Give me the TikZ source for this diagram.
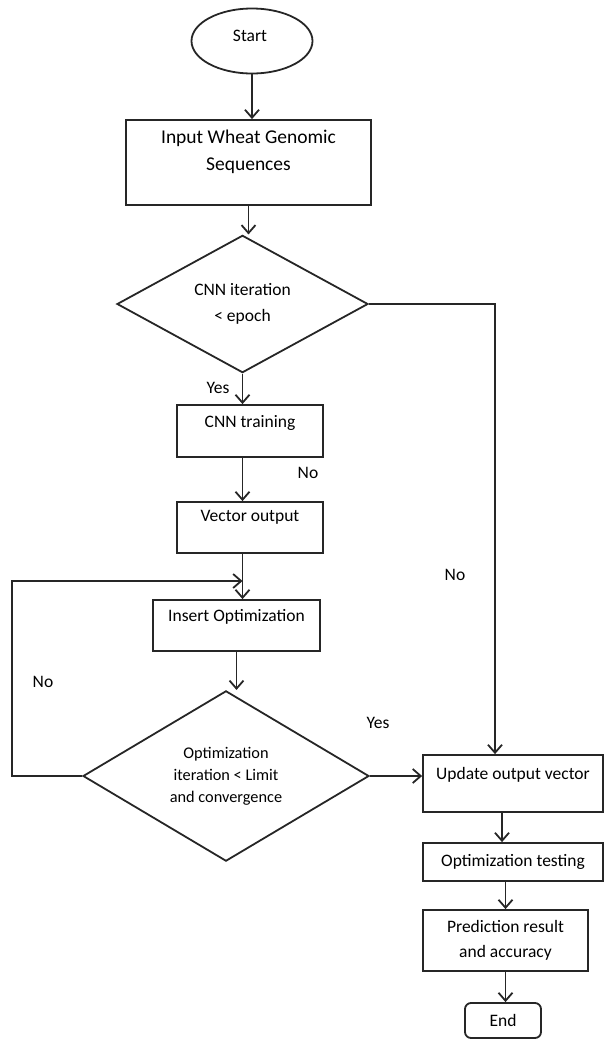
\documentclass[tikz,border=0pt]{standalone}
\usepackage{fontspec}
\setmainfont{Carlito}
\usetikzlibrary{arrows.meta,shapes.geometric}

\tikzset{
	flowbox/.style={draw=black!85, line width=1.8pt, rectangle, inner sep=0pt},
	decision/.style={draw=black!85, line width=1.8pt, diamond, inner sep=0pt, align=center},
	arr/.style={draw=black!85, line width=1.8pt, -{Straight Barb[length=8pt,width=14pt]}},
	lbl/.style={font=\fontsize{17.5}{21}\selectfont}
}

\begin{document}
\begin{tikzpicture}[x=1pt, y=-1pt, lbl]
		%%%%% START %%%%%
		\useasboundingbox (0,0) rectangle (605,1039);
		
		\node[flowbox, ellipse, minimum width=121pt, minimum height=65pt] (start) at (252,41) {};
		\node (starttxt) at (250,36) {Start};
		
		\node[flowbox, minimum width=245pt, minimum height=85pt, label={[align=center, font=\fontsize{19.5}{27}\selectfont, yshift=11pt]center:Input Wheat Genomic\\Sequences}] (input) at (248.5,162.5) {};
		
		\node[decision, minimum width=251pt, minimum height=111pt, font=\fontsize{17.5}{26}\selectfont] (d1) at (242.5,304) {CNN iteration\\< epoch};
		
		\node[flowbox, minimum width=146pt, minimum height=52pt, label={[yshift=8pt]center:CNN training}] (cnn) at (250,431) {};
		\node[flowbox, minimum width=146pt, minimum height=51pt, label={[yshift=10.5pt]center:Vector output}] (vec) at (250,527.5) {};
		\node[flowbox, minimum width=167pt, minimum height=51pt, label={[yshift=8.5pt]center:Insert Optimization}] (ins) at (236.5,625.5) {};
		
		\node[decision, minimum width=286pt, minimum height=162pt, font=\fontsize{16.3}{22}\selectfont] (d2) at (226,776) {Optimization\\iteration < Limit\\and convergence};
		
		\node[flowbox, minimum width=180pt, minimum height=57pt, label={[yshift=8.5pt]center:Update output vector}] (upd) at (513,783.5) {};
		\node[flowbox, minimum width=180pt, minimum height=38pt] (opt) at (513,862) {Optimization testing};
		\node[flowbox, minimum width=165pt, minimum height=61pt, align=center, font=\fontsize{17.5}{25}\selectfont] (pred) at (505.5,940.5) {Prediction result\\and accuracy};
		\node[flowbox, rounded corners=6pt, minimum width=76pt, minimum height=35pt] (end) at (503,1020.5) {End};
		
		% labels
		\node (yes1) at (218,388) {Yes};
		\node (no1) at (308,473) {No};
		\node (no2) at (455,575) {No};
		\node (no3) at (43,682) {No};
		\node (yes2) at (378,723) {Yes};
		
		% connectors
		\draw[arr] (start.south) -- (start.south |- input.north);
		\draw[arr] (input.south) -- (input.south |- d1.north);
		\draw[arr] (d1.south) -- (d1.south |- cnn.north);
		\draw[arr] (d1.south |- cnn.south) -- (d1.south |- vec.north);
		\draw[arr] (d1.south |- vec.south) -- (d1.south |- ins.north);
		\draw[arr] (ins.south) -- (ins.south |- d2.north);
		
		\coordinate (back) at (242.5,581);
		\draw[arr] (d2.west) -- ++(-70,0) |- (back);
		
		\draw[arr] (d1.east) -| ([xshift=-18pt]upd.north);
		\draw[arr] (d2.east) -- (d2.east -| upd.west);
		\draw[arr] ([xshift=-11pt]upd.south) -- ([xshift=-11pt]opt.north);
		\draw[arr] (pred.north |- opt.south) -- (pred.north);
		\draw[arr] (pred.south) -- (pred.south |- end.north);
		
		%%%%% END %%%%%
\end{tikzpicture}
\end{document}
